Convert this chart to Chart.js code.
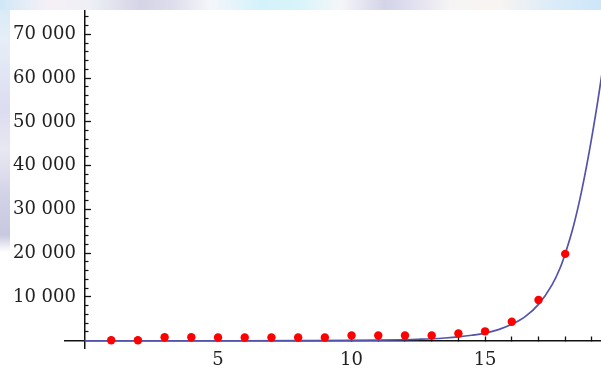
<!DOCTYPE html>
<html>
<head>
<meta charset="utf-8">
<script src="https://cdn.jsdelivr.net/npm/chart.js@4.4.1/dist/chart.umd.min.js"></script>
<style>
html,body{margin:0;padding:0;background:#fff;}
#wrap{position:relative;width:601px;height:369px;overflow:hidden;background:#fff;}
#top{position:absolute;left:0;top:0;width:601px;height:10px;
  background:linear-gradient(to right,#cfe7f7 0px,#e8eef8 30px,#f6f0f6 50px,#eef0f6 90px,#d4d4e6 140px,#dcdcea 170px,#f4f6fa 210px,#d4f2fa 260px,#d8f4fa 300px,#f4f6f8 340px,#d4d4e8 385px,#dcdcee 405px,#f6f4f4 450px,#f8f4f2 500px,#dcecf8 550px,#cde6f8 601px);}
#left{position:absolute;left:0;top:0;width:10px;height:369px;
  background:linear-gradient(to bottom,#d4eaf7 0px,#e6eef8 40px,#dcdcf0 110px,#e8e8f2 150px,#d0d0e6 200px,#c8c8e0 235px,#ffffff 252px,#ffffff 369px);}
canvas{position:absolute;left:0;top:0;}
</style>
</head>
<body>
<div id="wrap"><div id="left"></div><div id="top"></div><canvas id="c" width="601" height="369"></canvas></div>
<script>
// data points (red)
const pointX = [1, 2, 3, 4, 5, 6, 7, 8, 9, 10, 11, 12, 13, 14, 15, 16, 17, 18];
const pointY = [110, 110, 800, 800, 750, 750, 750, 750, 750, 1200, 1200, 1200, 1200, 1650, 2150, 4350, 9300, 19850];
// fitted curve (blue)
const fitX = [0, 2, 4, 6, 8, 10, 11, 12, 12.5, 13, 13.5, 14, 14.5, 15, 15.5, 16, 16.5, 17, 17.5, 17.8, 18, 18.3, 18.6, 18.9, 19.2, 19.4];
const fitY = [0, 0, 0, 0, 20, 60, 120, 230, 330, 450, 630, 880, 1250, 1750, 2550, 3750, 5500, 8300, 12700, 16500, 19900, 26000, 33800, 43200, 54000, 62000];
// ticks
const xTicks = [1, 2, 3, 4, 5, 6, 7, 8, 9, 10, 11, 12, 13, 14, 15, 16, 17, 18, 19];
const xLabels = [5, 10, 15];
const yMajor = [10000, 20000, 30000, 40000, 50000, 60000, 70000];
const yMinor = [2000, 4000, 6000, 8000, 12000, 14000, 16000, 18000, 22000, 24000, 26000, 28000, 32000, 34000, 36000, 38000, 42000, 44000, 46000, 48000, 52000, 54000, 56000, 58000, 62000, 64000, 66000, 68000, 72000, 74000];

const X_MIN = -0.73, X_MAX = 19.34, Y_MIN = -1660, Y_MAX = 75400;
const LABEL_X = -0.32;
const FONT = {family: "'DejaVu Serif', serif", size: 18};
const fmt = v => String(v).replace(/\B(?=(\d{3})+(?!\d))/g, ' ');

new Chart(document.getElementById('c'), {
  type: 'scatter',
  data: {
    datasets: [
      {
        label: 'data',
        data: pointX.map((x, i) => ({x: x, y: pointY[i]})),
        backgroundColor: '#ff0000',
        borderColor: '#ff0000',
        pointRadius: 4.2,
        pointBorderWidth: 0,
        order: 0
      },
      {
        label: 'fit',
        type: 'line',
        data: fitX.map((x, i) => ({x: x, y: fitY[i]})),
        borderColor: 'rgb(82,84,172)',
        borderWidth: 1.7,
        pointRadius: 0,
        showLine: true,
        fill: false,
        cubicInterpolationMode: 'monotone',
        order: 1
      }
    ]
  },
  options: {
    responsive: false,
    animation: false,
    devicePixelRatio: 1,
    layout: {autoPadding: false, padding: {left: 65, top: 10, right: 0, bottom: 21}},
    plugins: {legend: {display: false}, tooltip: {enabled: false}},
    scales: {
      x: {
        type: 'linear', min: X_MIN, max: X_MAX, position: {y: 0},
        afterBuildTicks: s => { s.ticks = xTicks.map(v => ({value: v})); },
        grid: {drawOnChartArea: false, drawTicks: true, tickLength: -5, tickColor: '#111', tickWidth: 1.3},
        border: {display: true, color: '#111', width: 1.5},
        ticks: {padding: 0, font: Object.assign({lineHeight: 2.72}, FONT), color: '#222', autoSkip: false, maxRotation: 0,
                callback: v => xLabels.includes(v) ? String(v) : ''}
      },
      y: {
        type: 'linear', min: Y_MIN, max: Y_MAX, position: {x: 0},
        afterBuildTicks: s => { s.ticks = yMajor.map(v => ({value: v})); },
        grid: {drawOnChartArea: false, drawTicks: true, tickLength: -7, tickColor: '#111', tickWidth: 1.3},
        border: {display: true, color: '#111', width: 1.5},
        ticks: {display: false}
      },
      yMinor: {
        axis: 'y', type: 'linear', min: Y_MIN, max: Y_MAX, position: {x: 0},
        afterBuildTicks: s => { s.ticks = yMinor.map(v => ({value: v})); },
        grid: {drawOnChartArea: false, drawTicks: true, tickLength: -4.5, tickColor: '#111', tickWidth: 1.2},
        border: {display: false},
        ticks: {display: false}
      },
      yLab: {
        axis: 'y', type: 'linear', min: Y_MIN, max: Y_MAX, position: {x: LABEL_X},
        afterBuildTicks: s => { s.ticks = yMajor.map(v => ({value: v})); },
        grid: {drawOnChartArea: false, drawTicks: false},
        border: {display: false},
        ticks: {padding: 0, font: FONT, color: '#222', autoSkip: false, callback: v => fmt(v)}
      }
    }
  }
});
</script>
</body>
</html>
